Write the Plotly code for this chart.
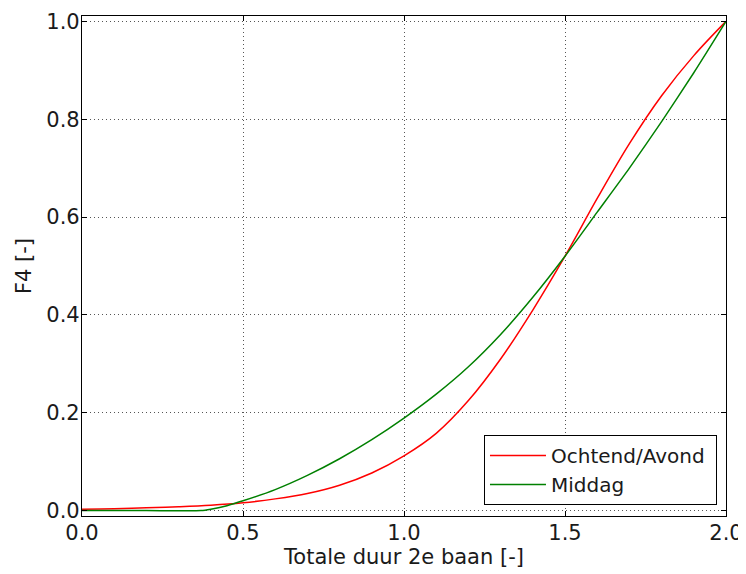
import plotly.graph_objects as go

# Data
x_red = [0.0, 0.1, 0.2, 0.3, 0.4, 0.5, 0.6, 0.7, 0.8, 0.9, 1.0, 1.1, 1.2, 1.3,
         1.4, 1.5, 1.6, 1.7, 1.8, 1.9, 2.0]
y_red = [0.003, 0.004, 0.006, 0.008, 0.011, 0.016, 0.024, 0.035, 0.052, 0.077,
         0.112, 0.158, 0.225, 0.310, 0.410, 0.520, 0.638, 0.750, 0.848, 0.930, 1.0]

x_green = [0.0, 0.2, 0.37, 0.4, 0.45, 0.5, 0.6, 0.7, 0.8, 0.9, 1.0,
           1.1, 1.2, 1.3, 1.4, 1.5, 1.6, 1.7, 1.8, 1.9, 2.0]
y_green = [0.0, 0.0, 0.0, 0.003, 0.010, 0.020, 0.043, 0.072, 0.106,
           0.145, 0.189, 0.238, 0.294, 0.360, 0.436, 0.520, 0.610, 0.700, 0.795,
           0.895, 1.0]

x_ticks = [0.0, 0.5, 1.0, 1.5, 2.0]
y_ticks = [0.0, 0.2, 0.4, 0.6, 0.8, 1.0]

series_names = ["Ochtend/Avond\u00a0", "Middag"]
x_title = "Totale duur 2e baan [-]"
y_title = "F4 [-]"

FONT = "DejaVu Sans"
TXT = "#1a1a1a"

fig = go.Figure()
fig.add_trace(go.Scatter(x=x_red, y=y_red, mode="lines", name=series_names[0],
                         line=dict(color="#ff0000", width=1.5, shape="spline", smoothing=1.0)))
fig.add_trace(go.Scatter(x=x_green, y=y_green, mode="lines", name=series_names[1],
                         line=dict(color="#008000", width=1.5, shape="spline", smoothing=0.6)))

axis_common = dict(
    showline=True, linecolor="black", linewidth=1.2, mirror="allticks",
    ticks="inside", ticklen=5, tickcolor="black", tickwidth=1,
    showgrid=True, gridcolor="#555555", griddash="1px,3px", gridwidth=1,
    zeroline=False, automargin=False,
    tickfont=dict(family=FONT, size=21, color=TXT),
)

fig.update_xaxes(range=[0, 2], tickvals=x_ticks, ticktext=[f"{v:.1f}" for v in x_ticks],
                 ticklabelstandoff=-2,
                 title=dict(text=x_title, font=dict(family=FONT, size=21, color=TXT), standoff=5),
                 **axis_common)
fig.update_yaxes(range=[-0.011, 1.011], tickvals=y_ticks, ticktext=[f"{v:.1f}" for v in y_ticks],
                 ticklabelstandoff=-3,
                 title=dict(text=y_title, font=dict(family=FONT, size=21, color=TXT), standoff=8),
                 **axis_common)

# the page body has an 8px margin, so the figure is sized/placed to compensate
fig.update_layout(
    width=738, height=566,
    margin=dict(l=74, r=20, t=8, b=58, autoexpand=False),
    paper_bgcolor="white", plot_bgcolor="white",
    font=dict(family=FONT, color=TXT),
    legend=dict(x=0.986, y=0.022, xanchor="right", yanchor="bottom",
                bgcolor="white", bordercolor="black", borderwidth=1,
                font=dict(family=FONT, size=20, color=TXT),
                tracegroupgap=0, itemwidth=56),
    showlegend=True,
)

fig.write_html("out.html")
